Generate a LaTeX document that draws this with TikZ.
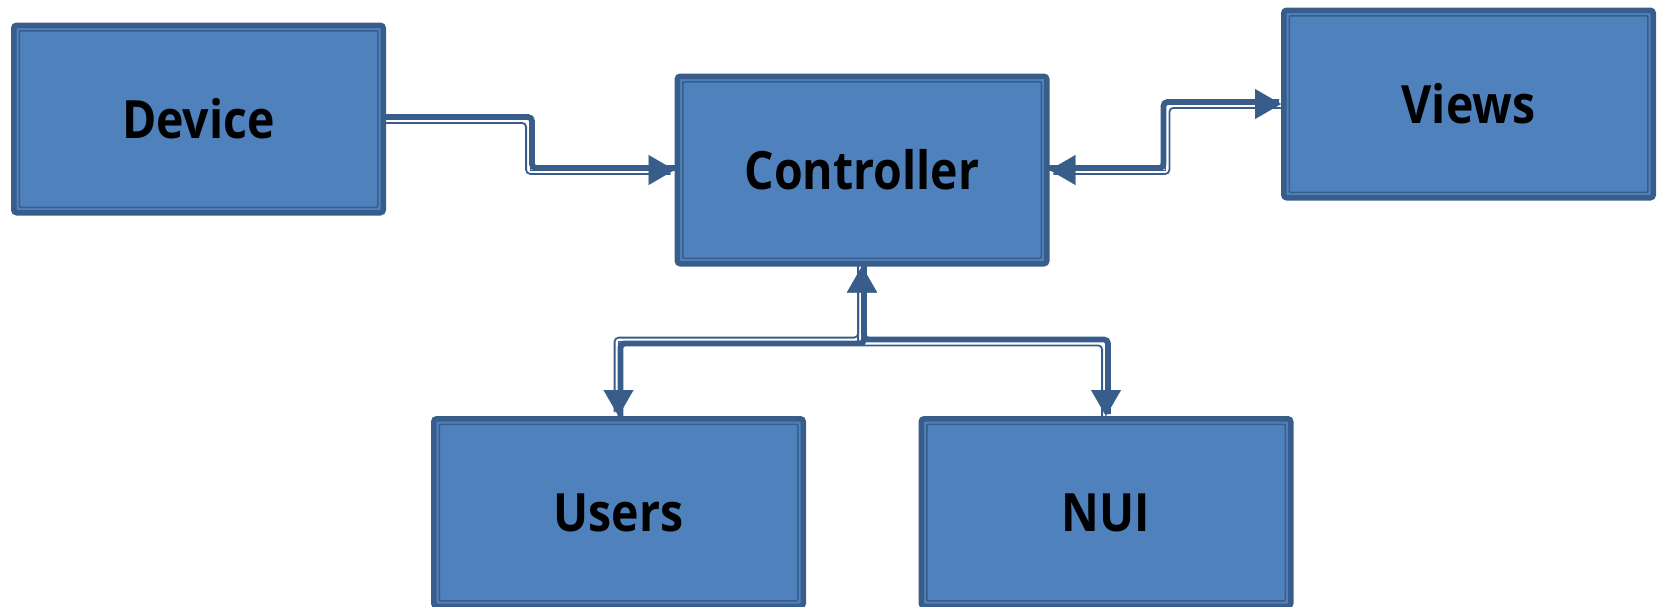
\documentclass[tikz,border=0pt]{standalone}
\usepackage{fontspec}
\setmainfont{Open Sans}[FakeStretch=0.88]
\usetikzlibrary{arrows.meta,backgrounds}
\definecolor{boxfill}{HTML}{4F81BD}
\definecolor{boxline}{HTML}{385D8A}
\pgfdeclarelayer{tips}
\pgfsetlayers{background,tips,main}
\begin{document}
\begin{tikzpicture}[x=0.5pt,y=-0.5pt,
  >={Triangle[length=13pt 0 0,width=15pt 0 0]},
  block/.style={draw=boxline, fill=boxfill, line width=2.75pt,
    rounded corners=1.5pt, minimum width=184.75pt, minimum height=93.75pt,
    inner sep=0pt, text=black,
    font=\fontsize{26.4pt}{30pt}\selectfont\bfseries,
    path picture={\draw[boxline, line width=0.75pt, rounded corners=0.5pt]
      ([shift={(2.75pt,-2.75pt)}]path picture bounding box.north west) rectangle
      ([shift={(-2.75pt,2.75pt)}]path picture bounding box.south east);}},
  thickline/.style={draw=boxline, line width=2.9pt, rounded corners=2pt},
  thinline/.style={draw=boxline, line width=0.9pt, rounded corners=2pt},
  tipline/.style={draw=boxline, line width=0.05pt, sharp corners}]
\useasboundingbox (0,0) rectangle (1657,606);

% boxes
\node[block] (device)     at (198.5,119)  {Device};
\node[block] (controller) at (862,170)    {Controller};
\node[block] (views)      at (1468.5,104) {Views};
\node[block] (users)      at (618.5,512.5) {Users};
\node[block] (nui)        at (1106,512.5) {NUI};

% compound (thick + thin) elbow connectors behind the boxes
\begin{scope}[on background layer]
  % Device -> Controller
  \draw[thickline, transform canvas={shift={(1pt,1pt)}}]
    ([xshift=-4pt]device.east) -- ++(152,0) |- (controller.west);
  \draw[thinline, transform canvas={shift={(-1.95pt,-1.95pt)}}]
    (device.east) -- ++(144,0) |- (controller.west);

  % Controller <-> Views
  \draw[thickline, transform canvas={shift={(-1pt,1pt)}}]
    (controller.east) -- ++(116,0) |- (views.west);
  \draw[thinline, transform canvas={shift={(1.95pt,-1.95pt)}}]
    (controller.east) -- ++(116,0) |- (views.west);

  % Controller <-> Users
  \draw[thickline, transform canvas={shift={(1pt,-1pt)}}]
    (controller.south) -- ++(0,75) -| (users.north);
  \draw[thinline, transform canvas={shift={(-1.95pt,1.95pt)}}]
    (controller.south) -- ++(0,75) -| (users.north);

  % Controller <-> NUI
  \draw[thickline, transform canvas={shift={(1pt,1pt)}}]
    (controller.south) -- ++(0,75) -| (nui.north);
  \draw[thinline, transform canvas={shift={(-1.95pt,-1.95pt)}}]
    (controller.south) -- ++(0,75) -| (nui.north);
\end{scope}

% arrow heads, centred on each connector, above the lines
\begin{pgfonlayer}{tips}
  \draw[tipline, ->]  (device.east) -- ++(144,0) |- (controller.west);
  \draw[tipline, <->] (controller.east) -- ++(116,0) |- (views.west);
  \draw[tipline, <->] (controller.south) -- ++(0,75) -| (users.north);
  \draw[tipline, <->] (controller.south) -- ++(0,75) -| (nui.north);
\end{pgfonlayer}
\end{tikzpicture}
\end{document}
